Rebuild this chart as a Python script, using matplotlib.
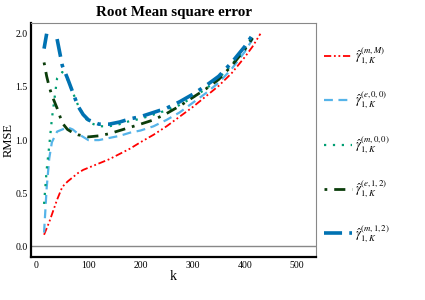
import numpy as np
import matplotlib
matplotlib.use("Agg")
import matplotlib.pyplot as plt

plt.rcParams["font.family"] = ["Liberation Serif", "DejaVu Serif"]
plt.rcParams["mathtext.fontset"] = "stix"

nan = np.nan

# k-Werte und RMSE der fuenf Schaetzer
k = [15, 20, 25, 30, 40, 50, 60, 70, 80, 90, 100, 120, 140, 160, 180, 200,
     225, 250, 275, 300, 325, 350, 375, 400, 415, 430]

rmse_mM = [0.11, 0.17, 0.23, 0.30, 0.44, 0.56, 0.61, 0.65, 0.69, 0.72, 0.74, 0.78,
           0.82, 0.87, 0.92, 0.98, 1.05, 1.13, 1.22, 1.31, 1.41, 1.51, 1.63, 1.78,
           1.88, 2.00]
rmse_e00 = [0.13, 0.55, 0.83, 0.98, 1.08, 1.10, 1.12, 1.10, 1.06, 1.03, 1.00, 1.00,
            1.02, 1.04, 1.07, 1.09, 1.13, 1.19, 1.26, 1.35, 1.44, 1.54, 1.67, 1.83,
            1.95, nan]
rmse_m00 = [0.40, 0.72, 0.95, 1.20, 1.58, 1.64, 1.57, 1.45, 1.33, 1.24, 1.17, 1.13,
            1.13, 1.15, 1.18, 1.20, 1.24, 1.28, 1.33, 1.40, 1.48, 1.58, 1.71, 1.86,
            1.98, nan]
rmse_e12 = [1.73, 1.60, 1.50, 1.42, 1.30, 1.16, 1.10, 1.07, 1.05, 1.04, 1.03, 1.04,
            1.06, 1.09, 1.12, 1.15, 1.19, 1.25, 1.32, 1.40, 1.48, 1.57, 1.70, 1.85,
            1.96, nan]
rmse_m12 = [1.86, 2.00, nan, nan, 1.95, 1.70, 1.58, 1.45, 1.32, 1.24, 1.19, 1.15,
            1.15, 1.17, 1.20, 1.22, 1.26, 1.30, 1.36, 1.43, 1.51, 1.60, 1.73, 1.88,
            1.99, nan]

labels = [r"$\hat{\gamma}_{1,K}^{(m,M)}$", r"$\hat{\gamma}_{1,K}^{(e,0,0)}$",
          r"$\hat{\gamma}_{1,K}^{(m,0,0)}$", r"$\hat{\gamma}_{1,K}^{(e,1,2)}$",
          r"$\hat{\gamma}_{1,K}^{(m,1,2)}$"]

fig = plt.figure(figsize=(4.25, 3.0), dpi=100)
ax = fig.add_axes([0.073, 0.143, 0.671, 0.78])

ax.axhline(0, color="#888888", lw=1.0, zorder=1)

ax.plot(k, rmse_mM, color="#ff0000", lw=1.3, dashes=(4, 1.5, 1, 1.5, 1, 1.5), label=labels[0])
ax.plot(k, rmse_e00, color="#56b4e9", lw=1.6, dashes=(4, 2.5), label=labels[1])
ax.plot(k, rmse_m00, color="#009e73", lw=1.6, dashes=(1, 3), label=labels[2])
ax.plot(k, rmse_e12, color="#0b3d0b", lw=2.0, dashes=(1, 2.5, 4, 2.5), label=labels[3])
ax.plot(k, rmse_m12, color="#0072b2", lw=2.6, dashes=(5, 2, 1, 2), label=labels[4])

ax.set_xlim(-10, 537)
ax.set_ylim(-0.1, 2.1)
ax.set_xticks([0, 100, 200, 300, 400, 500])
ax.set_yticks([0.0, 0.5, 1.0, 1.5, 2.0])
ax.set_yticklabels(["0.0", "0.5", "1.0", "1.5", "2.0"])
ax.tick_params(labelsize=7, length=0, pad=2.5)

for side in ["top", "right"]:
    ax.spines[side].set_color("#888888")
    ax.spines[side].set_linewidth(0.8)
for side in ["left", "bottom"]:
    ax.spines[side].set_color("black")
    ax.spines[side].set_linewidth(1.6)

ax.set_xlabel("k", fontsize=10, labelpad=0)
ax.set_ylabel("RMSE", fontsize=9)
ax.yaxis.set_label_coords(-0.058, 0.5)
ax.set_title("Root Mean square error", fontsize=10.8, fontweight="bold", pad=5)

fig.legend(loc="upper left", bbox_to_anchor=(0.736, 0.885), frameon=False,
           fontsize=9, handlelength=2.2, handletextpad=0.3, labelspacing=1.85)

fig.savefig("out.png", dpi=100)
